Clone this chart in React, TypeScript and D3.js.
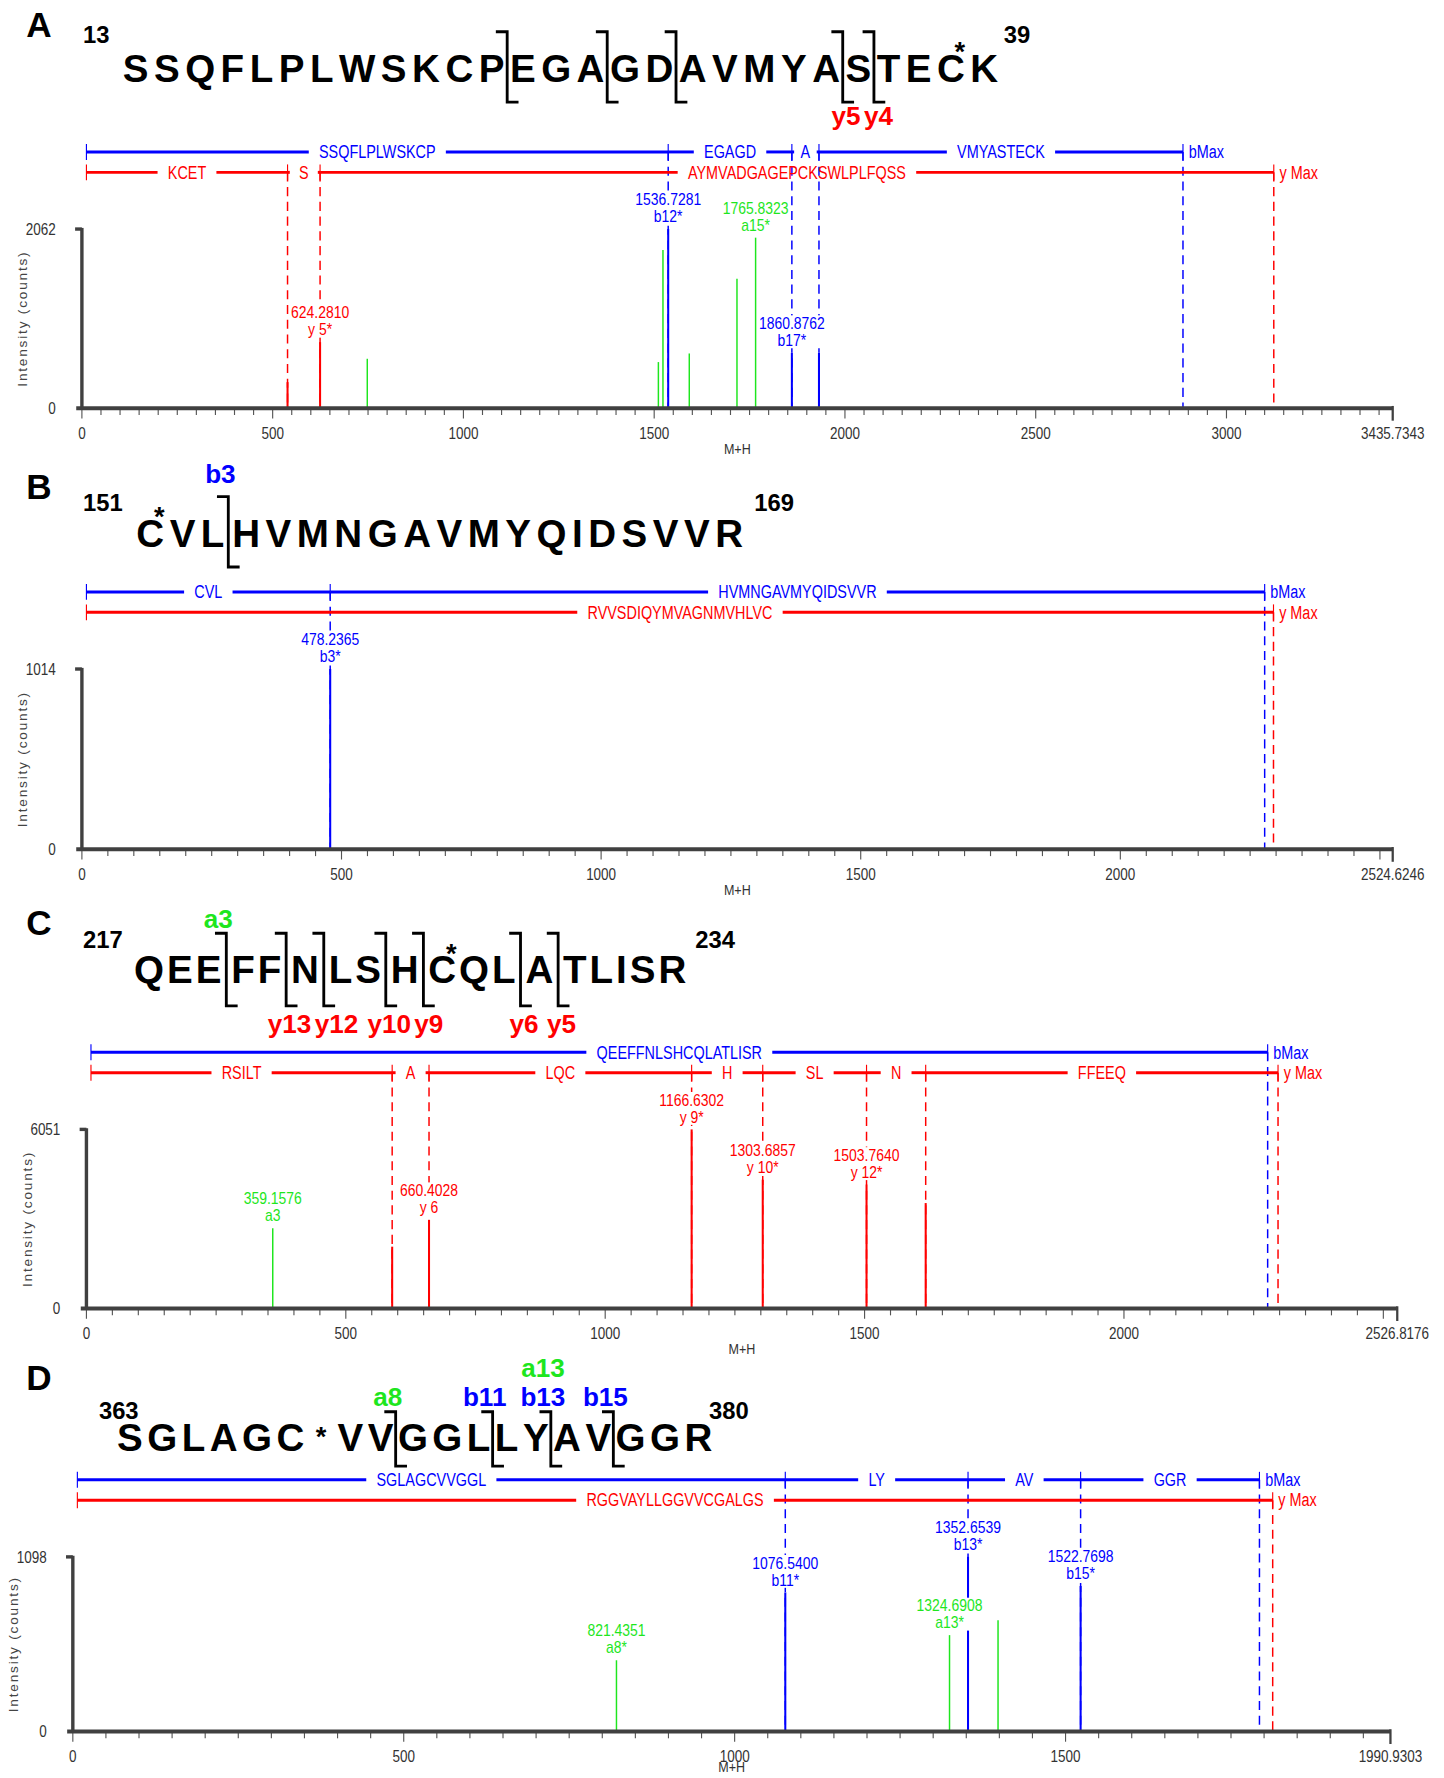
import React from 'react';
import * as d3 from 'd3';

// ---------- panel A ----------
const seqA = 'SSQFLPLWSKCPEGAGDAVMYASTECK';
const numsA = [13, 39];
const modA = 25;
const cutsA = [12, 15, 17, 22, 23];
const topIonsA: string[] = [];
const topCutsA: number[] = [];
const bottomIonsA = ['y5', 'y4'];
const bottomCutsA = [22, 23];
const mzMaxA = 3435.7343;
const intMaxA = 2062;
const bEdgesA = [0, 1536.7281, 1860.8762, 1931.91, 2886];
const bNamesA = ['SSQFLPLWSKCP', 'EGAGD', 'A', 'VMYASTECK'];
const yEdgesA = [0, 539, 624.281, 3124];
const yNamesA = ['KCET', 'S', 'AYMVADGAGEPCKSWLPLFQSS'];
const peakMzA = [539, 624.281, 748, 1511, 1523, 1536.7281, 1592, 1717, 1765.8323, 1860.8762, 1931.91];
const peakIntA = [300, 760, 569, 531, 1821, 2062, 630, 1489, 1963, 638, 638];
const peakIonA = ['y', 'y', 'a', 'a', 'a', 'b', 'a', 'a', 'a', 'b', 'b'];
const peakTagA = ['', 'y 5*', '', '', '', 'b12*', '', '', 'a15*', 'b17*', ''];

// ---------- panel B ----------
const seqB = 'CVLHVMNGAVMYQIDSVVR';
const numsB = [151, 169];
const modB = 0;
const cutsB = [3];
const topIonsB = ['b3'];
const topCutsB = [3];
const bottomIonsB: string[] = [];
const bottomCutsB: number[] = [];
const mzMaxB = 2524.6246;
const intMaxB = 1014;
const bEdgesB = [0, 478.2365, 2278];
const bNamesB = ['CVL', 'HVMNGAVMYQIDSVVR'];
const yEdgesB = [0, 2295];
const yNamesB = ['RVVSDIQYMVAGNMVHLVC'];
const peakMzB = [478.2365];
const peakIntB = [1014];
const peakIonB = ['b'];
const peakTagB = ['b3*'];

// ---------- panel C ----------
const seqC = 'QEEFFNLSHCQLATLISR';
const numsC = [217, 234];
const modC = 9;
const cutsC = [3, 5, 6, 8, 9, 12, 13];
const topIonsC = ['a3'];
const topCutsC = [3];
const bottomIonsC = ['y13', 'y12', 'y10', 'y9', 'y6', 'y5'];
const bottomCutsC = [5, 6, 8, 9, 12, 13];
const mzMaxC = 2526.8176;
const intMaxC = 6051;
const bEdgesC = [0, 2277];
const bNamesC = ['QEEFFNLSHCQLATLISR'];
const yEdgesC = [0, 589.36, 660.4028, 1166.6302, 1303.6857, 1503.764, 1617.81, 2297];
const yNamesC = ['RSILT', 'A', 'LQC', 'H', 'SL', 'N', 'FFEEQ'];
const peakMzC = [359.1576, 589.36, 660.4028, 1166.6302, 1303.6857, 1503.764, 1617.81];
const peakIntC = [2714, 2090, 2997, 6051, 4354, 4185, 3563];
const peakIonC = ['a', 'y', 'y', 'y', 'y', 'y', 'y'];
const peakTagC = ['a3', '', 'y 6', 'y 9*', 'y 10*', 'y 12*', ''];

// ---------- panel D ----------
const seqD = 'SGLAGCVVGGLLYAVGGR';
const numsD = [363, 380];
const modD = 5;
const cutsD = [8, 11, 13, 15];
const topIonsD = ['a8', 'b11', 'b13', 'a13', 'b15'];
const topCutsD = [8, 11, 13, 13, 15];
const bottomIonsD: string[] = [];
const bottomCutsD: number[] = [];
const mzMaxD = 1990.9303;
const intMaxD = 1098;
const bEdgesD = [0, 1076.54, 1352.6539, 1522.7698, 1793];
const bNamesD = ['SGLAGCVVGGL', 'LY', 'AV', 'GGR'];
const yEdgesD = [0, 1813];
const yNamesD = ['RGGVAYLLGGVVCGALGS'];
const peakMzD = [821.4351, 1076.54, 1324.6908, 1352.6539, 1398, 1522.7698];
const peakIntD = [448, 875, 606, 1098, 700, 915];
const peakIonD = ['a', 'b', 'a', 'b', 'a', 'b'];
const peakTagD = ['a8*', 'b11*', 'a13*', 'b13*', '', 'b15*'];

const BLUE = '#0000ff';
const RED = '#ff0000';
const GREEN = '#1ee61e';
const AXIS = '#404040';
const ionColor = (t: string) => (t[0] === 'b' ? BLUE : t[0] === 'y' ? RED : GREEN);

// text measuring (canvas) so gaps and brackets follow the real glyphs
const ctx = document.createElement('canvas').getContext('2d') as CanvasRenderingContext2D;
const measure = (s: string, font: string) => {
  ctx.font = font;
  return ctx.measureText(s).width;
};
const probe = '0123456789abcdefghMW';
const narrowOk =
  measure(probe, "20px 'Liberation Sans Narrow', monospace") !== measure(probe, '20px monospace');
const NARROW = narrowOk ? "'Liberation Sans Narrow'" : "'Liberation Sans'";
const NSCALE = narrowOk ? 1 : 0.82;
const BOLD = "'Liberation Sans', Arial, sans-serif";
const nWidth = (s: string, size: number) => measure(s, `${size}px ${NARROW}`) * NSCALE;

function NText({ x, y, size, fill, anchor = 'middle', children }: any) {
  return (
    <text
      transform={`translate(${x},${y}) scale(${NSCALE},1)`}
      fontFamily={NARROW}
      fontSize={size}
      fill={fill}
      textAnchor={anchor}
    >
      {children}
    </text>
  );
}

const panels = [
  {
    name: 'A', seq: seqA, nums: numsA, mod: modA, inlineStar: false, cuts: cutsA,
    topIons: topIonsA, topCuts: topCutsA, bottomIons: bottomIonsA, bottomCuts: bottomCutsA,
    mzMax: mzMaxA, intMax: intMaxA, bEdges: bEdgesA, bNames: bNamesA, yEdges: yEdgesA, yNames: yNamesA,
    mz: peakMzA, inten: peakIntA, ion: peakIonA, tag: peakTagA,
    L: { letterY: 33, seqY: 72, seqL: 108, seqR: 880, gap: 0, brTop: 44, brBot: 18, numY: 38, numL: 73, numR: 885, topDy: -56, botDy: 38, top: 202, axisY: 360, x0: 72, x1: 1228 },
  },
  {
    name: 'B', seq: seqB, nums: numsB, mod: modB, inlineStar: false, cuts: cutsB,
    topIons: topIonsB, topCuts: topCutsB, bottomIons: bottomIonsB, bottomCuts: bottomCutsB,
    mzMax: mzMaxB, intMax: intMaxB, bEdges: bEdgesB, bNames: bNamesB, yEdges: yEdgesB, yNames: yNamesB,
    mz: peakMzB, inten: peakIntB, ion: peakIonB, tag: peakTagB,
    L: { letterY: 440, seqY: 482, seqL: 120, seqR: 655, gap: 2, brTop: 44, brBot: 18, numY: 451, numL: 73, numR: 665, topDy: -56, botDy: 38, top: 590, axisY: 749, x0: 72, x1: 1228 },
  },
  {
    name: 'C', seq: seqC, nums: numsC, mod: modC, inlineStar: false, cuts: cutsC,
    topIons: topIonsC, topCuts: topCutsC, bottomIons: bottomIonsC, bottomCuts: bottomCutsC,
    mzMax: mzMaxC, intMax: intMaxC, bEdges: bEdgesC, bNames: bNamesC, yEdges: yEdgesC, yNames: yNamesC,
    mz: peakMzC, inten: peakIntC, ion: peakIonC, tag: peakTagC,
    L: { letterY: 825, seqY: 867, seqL: 118, seqR: 605, gap: 6, brTop: 44, brBot: 20, numY: 836, numL: 73, numR: 613, topDy: -49, botDy: 44, top: 996, axisY: 1154, x0: 76, x1: 1232 },
  },
  {
    name: 'D', seq: seqD, nums: numsD, mod: modD, inlineStar: true, cuts: cutsD,
    topIons: topIonsD, topCuts: topCutsD, bottomIons: bottomIonsD, bottomCuts: bottomCutsD,
    mzMax: mzMaxD, intMax: intMaxD, bEdges: bEdgesD, bNames: bNamesD, yEdges: yEdgesD, yNames: yNamesD,
    mz: peakMzD, inten: peakIntD, ion: peakIonD, tag: peakTagD,
    L: { letterY: 1226, seqY: 1280, seqL: 103, seqR: 628, gap: 0, brTop: 35, brBot: 13, numY: 1251, numL: 87, numR: 625, topDy: -40, botDy: 38, top: 1373, axisY: 1527, x0: 64, x1: 1226 },
  },
];

const SEQ_SIZE = 34;
const ION_SIZE = 23;
const STAR_PAD = 6;

function Sequence({ p }: any) {
  const L = p.L;
  const font = `bold ${SEQ_SIZE}px ${BOLD}`;
  const starFont = `bold 24px ${BOLD}`;
  const glyphs: { ch: string; res: number; star: boolean }[] = [];
  p.seq.split('').forEach((ch: string, i: number) => {
    glyphs.push({ ch, res: i, star: false });
    if (p.inlineStar && i === p.mod) glyphs.push({ ch: '*', res: i, star: true });
  });
  const widths = glyphs.map((g) => measure(g.ch, g.star ? starFont : font) + (g.star ? 2 * STAR_PAD : 0));
  const gap = L.gap;
  const ls = (L.seqR - L.seqL - d3.sum(widths) - p.cuts.length * gap) / (glyphs.length - 1);
  const xs: number[] = [];
  const cutX: Record<number, number> = {};
  let cx = L.seqL;
  glyphs.forEach((g, k) => {
    if (k > 0) {
      if (!g.star && p.cuts.includes(g.res)) {
        cutX[g.res] = cx + (ls + gap) / 2;
        cx += ls + gap;
      } else cx += ls;
    }
    xs.push(cx);
    cx += widths[k];
  });

  const ionFont = `bold ${ION_SIZE}px ${BOLD}`;
  const place = (names: string[], cuts: number[], dx: number, baseY: number, stack: number) => {
    const order = names.map((n, i) => ({ n, c: cuts[i], i })).sort((a, b) => a.c - b.c || a.i - b.i);
    const levelCount: Record<number, number> = {};
    const rightEdge: Record<number, number> = {};
    return order.map((o) => {
      const level = levelCount[o.c] || 0;
      levelCount[o.c] = level + 1;
      const w = measure(o.n, ionFont);
      let left = cutX[o.c] + dx - w / 2;
      const prev = rightEdge[level];
      if (prev !== undefined && left < prev + 3) left = prev + 3;
      rightEdge[level] = left + w;
      return { n: o.n, x: left + w / 2, y: baseY - level * stack };
    });
  };
  const tops = place(p.topIons, p.topCuts, -7, L.seqY + L.topDy, 26);
  const bots = place(p.bottomIons, p.bottomCuts, 3, L.seqY + L.botDy, 26);

  return (
    <g>
      {glyphs.map((g, k) => (
        <text
          key={k}
          x={g.star ? xs[k] + STAR_PAD : xs[k]}
          y={g.star ? L.seqY - 5 : L.seqY}
          fontFamily={BOLD}
          fontWeight="bold"
          fontSize={g.star ? 24 : SEQ_SIZE}
        >
          {g.ch}
        </text>
      ))}
      {!p.inlineStar && (
        <text
          x={xs[p.mod] + widths[p.mod] / 2 + 8}
          y={L.seqY - 18}
          fontFamily={BOLD}
          fontWeight="bold"
          fontSize={24}
          textAnchor="middle"
        >
          *
        </text>
      )}
      {p.cuts.map((c: number) => {
        const bx = cutX[c];
        const t = L.seqY - L.brTop;
        const b = L.seqY + L.brBot;
        return (
          <path
            key={c}
            d={`M${bx - 10},${t}H${bx}V${b}H${bx + 10}`}
            fill="none"
            stroke="#000"
            strokeWidth={2.5}
          />
        );
      })}
      {[...tops, ...bots].map((t, i) => (
        <text key={'ion' + i} x={t.x} y={t.y} fontFamily={BOLD} fontWeight="bold" fontSize={ION_SIZE} fill={ionColor(t.n)} textAnchor="middle">
          {t.n}
        </text>
      ))}
      <text x={L.numL} y={L.numY} fontFamily={BOLD} fontWeight="bold" fontSize={21}>{p.nums[0]}</text>
      <text x={L.numR} y={L.numY} fontFamily={BOLD} fontWeight="bold" fontSize={21}>{p.nums[1]}</text>
      <text x={23} y={L.letterY} fontFamily={BOLD} fontWeight="bold" fontSize={31}>{p.name}</text>
    </g>
  );
}

const FRAG_SIZE = 15.5;

function barEdgesX(edges: number[], x: d3.ScaleLinear<number, number>) {
  return edges.map((e, i) => (i === 0 ? x(e) + 4 : x(e)));
}

function DashLines({ edges, yPos, color, x, axisY }: any) {
  const xs = barEdgesX(edges, x);
  return (
    <g>
      {xs.slice(1).map((xx: number, i: number) => (
        <line key={i} x1={xx} x2={xx} y1={yPos} y2={axisY} stroke={color} strokeWidth={1.3} strokeDasharray="8 5" />
      ))}
    </g>
  );
}

function FragBar({ edges, names, yPos, color, x, maxLabel }: any) {
  const xs = barEdgesX(edges, x);
  return (
    <g>
      {names.map((nm: string, i: number) => {
        const a = xs[i];
        const b = xs[i + 1];
        const mid = (a + b) / 2;
        const tw = nWidth(nm, FRAG_SIZE);
        const pad = Math.max(1.5, Math.min(9, (b - a - tw) / 2 - 2));
        return (
          <g key={i}>
            <line x1={a} x2={Math.max(a, mid - tw / 2 - pad)} y1={yPos} y2={yPos} stroke={color} strokeWidth={2.6} />
            <line x1={Math.min(b, mid + tw / 2 + pad)} x2={b} y1={yPos} y2={yPos} stroke={color} strokeWidth={2.6} />
            <NText x={mid} y={yPos + 5.5} size={FRAG_SIZE} fill={color}>{nm}</NText>
          </g>
        );
      })}
      {xs.map((xx: number, i: number) => (
        <line key={'t' + i} x1={xx} x2={xx} y1={yPos - 7} y2={yPos + 7} stroke={color} strokeWidth={1} />
      ))}
      <NText x={xs[xs.length - 1] + 5} y={yPos + 5.5} size={FRAG_SIZE} fill={color} anchor="start">{maxLabel}</NText>
    </g>
  );
}

function Spectrum({ p }: any) {
  const L = p.L;
  const x = d3.scaleLinear().domain([0, p.mzMax]).range([L.x0, L.x1]);
  const y = d3.scaleLinear().domain([0, p.intMax]).range([L.axisY, L.top]);
  const blueY = L.top - 68;
  const redY = blueY + 18;
  const minor = d3.range(0, p.mzMax, 50);
  const major = d3.range(0, p.mzMax, 500).filter((t: number) => L.x1 - x(t) > 45);
  const fmt = d3.format('.4f');
  const peaks = p.mz.map((m: number, i: number) => ({ m, v: p.inten[i], ion: p.ion[i], tag: p.tag[i] }));
  const LBL = 15;

  return (
    <g>
      <DashLines edges={p.bEdges} yPos={blueY} color={BLUE} x={x} axisY={L.axisY} />
      <DashLines edges={p.yEdges} yPos={redY} color={RED} x={x} axisY={L.axisY} />
      <FragBar edges={p.bEdges} names={p.bNames} yPos={blueY} color={BLUE} x={x} maxLabel="bMax" />
      <FragBar edges={p.yEdges} names={p.yNames} yPos={redY} color={RED} x={x} maxLabel="y Max" />

      {peaks.map((pk: any, i: number) => (
        <line
          key={'p' + i}
          x1={x(pk.m)}
          x2={x(pk.m)}
          y1={L.axisY}
          y2={y(pk.v)}
          stroke={ionColor(pk.ion)}
          strokeWidth={pk.ion === 'a' ? 1.3 : 1.8}
        />
      ))}
      {peaks
        .filter((pk: any) => pk.tag)
        .map((pk: any, i: number) => {
          const px = x(pk.m);
          const top = y(pk.v);
          const s1 = fmt(pk.m);
          const w = Math.max(nWidth(s1, LBL), nWidth(pk.tag, LBL)) + 2;
          const c = ionColor(pk.ion);
          return (
            <g key={'l' + i}>
              <rect x={px - w / 2} y={top - 33} width={w} height={29} fill="#fff" />
              <NText x={px} y={top - 21} size={LBL} fill={c}>{s1}</NText>
              <NText x={px} y={top - 6} size={LBL} fill={c}>{pk.tag}</NText>
            </g>
          );
        })}

      {/* axes */}
      {minor.map((t: number) => (
        <line key={'m' + t} x1={x(t)} x2={x(t)} y1={L.axisY} y2={L.axisY + (t % 500 === 0 ? 9 : 6)} stroke="#555" strokeWidth={1} />
      ))}
      <line x1={L.x1} x2={L.x1} y1={L.axisY - 2} y2={L.axisY + 11} stroke={AXIS} strokeWidth={2} />
      <line x1={L.x0} x2={L.x0} y1={L.top - 1} y2={L.axisY} stroke={AXIS} strokeWidth={3} />
      <line x1={L.x0 - 6} x2={L.x0} y1={L.top} y2={L.top} stroke={AXIS} strokeWidth={3} />
      <line x1={L.x0 - 5} x2={L.x1} y1={L.axisY} y2={L.axisY} stroke={AXIS} strokeWidth={3.5} />
      {major.map((t: number) => (
        <NText key={'ml' + t} x={x(t)} y={L.axisY + 27} size={14.5} fill="#333">{t}</NText>
      ))}
      <NText x={L.x1} y={L.axisY + 27} size={14.5} fill="#333">{fmt(p.mzMax)}</NText>
      <NText x={(L.x0 + L.x1) / 2} y={Math.min(L.axisY + 40, 1563)} size={13.5} fill="#333">M+H</NText>
      <NText x={L.x0 - 23} y={L.top + 5} size={14.5} fill="#333" anchor="end">{p.intMax}</NText>
      <NText x={L.x0 - 23} y={L.axisY + 5} size={14.5} fill="#333" anchor="end">0</NText>
      <text
        transform={`translate(${L.x0 - 48},${(L.top + L.axisY) / 2}) rotate(-90)`}
        fontFamily={BOLD}
        fontSize={12}
        letterSpacing={1.6}
        fill="#444"
        textAnchor="middle"
      >
        Intensity (counts)
      </text>
    </g>
  );
}

export default function App() {
  return (
    <svg
      width={1444}
      height={1778}
      viewBox="0 0 1273 1568"
      style={{ position: 'absolute', left: 0, top: 0, background: '#fff' }}
    >
      <rect width={1273} height={1568} fill="#fff" />
      {panels.map((p) => (
        <g key={p.name}>
          <Sequence p={p} />
          <Spectrum p={p} />
        </g>
      ))}
    </svg>
  );
}
